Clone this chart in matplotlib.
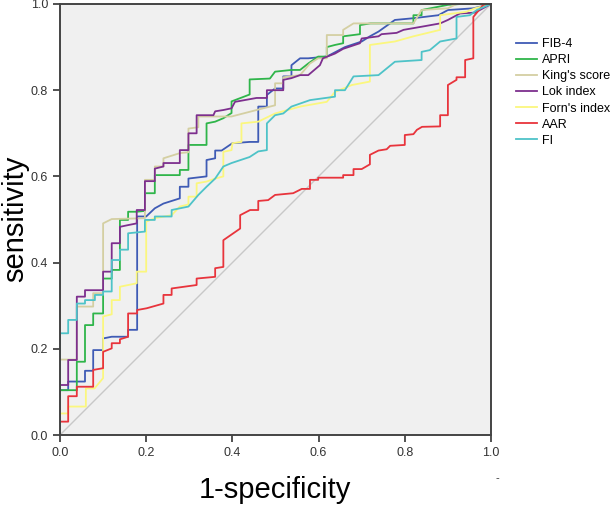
import matplotlib
matplotlib.use("Agg")
import matplotlib.pyplot as plt

plt.rcParams["font.family"] = ["Liberation Sans", "DejaVu Sans"]

# ROC curves (1-specificity, sensitivity)
fib4_x = [0, 0, 0.019, 0.019, 0.058, 0.058, 0.077, 0.077, 0.10, 0.10, 0.12, 0.158, 0.158, 0.179, 0.179, 0.20,
          0.22, 0.24, 0.278, 0.278, 0.298, 0.298, 0.34, 0.34, 0.36, 0.36, 0.375, 0.40, 0.44, 0.46, 0.46, 0.48,
          0.48, 0.499, 0.518, 0.518, 0.537, 0.537, 0.557, 0.576, 0.619, 0.661, 0.70, 0.719, 0.739, 0.777, 0.82,
          0.878, 0.90, 0.959, 1.0]
fib4_y = [0, 0.104, 0.104, 0.124, 0.124, 0.149, 0.149, 0.197, 0.197, 0.224, 0.228, 0.228, 0.244, 0.244, 0.507,
          0.507, 0.526, 0.537, 0.549, 0.576, 0.576, 0.595, 0.60, 0.638, 0.642, 0.66, 0.66, 0.677, 0.68, 0.68,
          0.762, 0.762, 0.789, 0.804, 0.804, 0.832, 0.832, 0.858, 0.874, 0.874, 0.878, 0.90, 0.913, 0.925, 0.936,
          0.963, 0.967, 0.974, 0.986, 0.99, 1.0]

apri_x = [0, 0, 0.039, 0.039, 0.058, 0.058, 0.077, 0.077, 0.10, 0.10, 0.12, 0.12, 0.139, 0.139, 0.158, 0.158,
          0.178, 0.197, 0.197, 0.22, 0.22, 0.278, 0.278, 0.298, 0.298, 0.34, 0.34, 0.36, 0.379, 0.398, 0.398,
          0.44, 0.44, 0.487, 0.499, 0.537, 0.557, 0.576, 0.599, 0.619, 0.619, 0.638, 0.657, 0.657, 0.696, 0.696,
          0.72, 0.82, 0.82, 0.839, 0.839, 0.90, 0.93, 1.0]
apri_y = [0, 0.104, 0.104, 0.17, 0.17, 0.255, 0.255, 0.282, 0.282, 0.363, 0.363, 0.383, 0.383, 0.499, 0.499,
          0.518, 0.518, 0.52, 0.561, 0.561, 0.603, 0.603, 0.615, 0.615, 0.673, 0.673, 0.723, 0.727, 0.735, 0.747,
          0.774, 0.79, 0.825, 0.827, 0.843, 0.847, 0.847, 0.862, 0.878, 0.878, 0.90, 0.905, 0.909, 0.925, 0.93,
          0.951, 0.955, 0.955, 0.974, 0.974, 0.986, 0.998, 1.0, 1.0]

king_x = [0, 0, 0.039, 0.039, 0.077, 0.077, 0.10, 0.10, 0.12, 0.197, 0.197, 0.22, 0.22, 0.24, 0.24, 0.278,
          0.298, 0.298, 0.321, 0.321, 0.398, 0.456, 0.499, 0.499, 0.518, 0.518, 0.557, 0.58, 0.599, 0.619, 0.619,
          0.657, 0.657, 0.681, 0.82, 0.839, 0.90, 0.92, 1.0]
king_y = [0, 0.175, 0.175, 0.298, 0.298, 0.329, 0.329, 0.491, 0.501, 0.503, 0.592, 0.592, 0.623, 0.623, 0.642,
          0.654, 0.656, 0.711, 0.714, 0.739, 0.739, 0.754, 0.765, 0.816, 0.816, 0.83, 0.835, 0.862, 0.874, 0.874,
          0.928, 0.928, 0.94, 0.955, 0.955, 0.986, 0.99, 1.0, 1.0]

lok_x = [0, 0, 0.019, 0.019, 0.039, 0.039, 0.058, 0.058, 0.10, 0.10, 0.12, 0.12, 0.139, 0.139, 0.158, 0.178,
         0.178, 0.197, 0.197, 0.22, 0.22, 0.24, 0.24, 0.278, 0.278, 0.298, 0.298, 0.317, 0.317, 0.356, 0.36,
         0.379, 0.398, 0.406, 0.456, 0.48, 0.48, 0.518, 0.518, 0.537, 0.557, 0.576, 0.603, 0.61, 0.638, 0.657,
         0.696, 0.70, 0.739, 0.746, 0.781, 0.797, 0.843, 0.882, 0.90, 0.928, 0.963, 1.0]
lok_y = [0, 0.116, 0.116, 0.174, 0.174, 0.321, 0.321, 0.336, 0.336, 0.379, 0.379, 0.445, 0.445, 0.483, 0.487,
         0.491, 0.522, 0.522, 0.589, 0.589, 0.618, 0.623, 0.631, 0.631, 0.661, 0.661, 0.70, 0.70, 0.742, 0.742,
         0.751, 0.754, 0.758, 0.773, 0.782, 0.782, 0.80, 0.80, 0.824, 0.828, 0.835, 0.835, 0.858, 0.874, 0.885,
         0.896, 0.909, 0.92, 0.925, 0.93, 0.933, 0.94, 0.948, 0.955, 0.963, 0.978, 0.98, 1.0]

forn_x = [0, 0, 0.019, 0.019, 0.039, 0.06, 0.06, 0.08, 0.10, 0.10, 0.12, 0.12, 0.139, 0.139, 0.178, 0.178, 0.20,
          0.20, 0.22, 0.259, 0.278, 0.298, 0.298, 0.317, 0.317, 0.34, 0.36, 0.379, 0.379, 0.398, 0.40, 0.421,
          0.421, 0.46, 0.499, 0.557, 0.619, 0.638, 0.677, 0.719, 0.719, 0.777, 0.82, 0.882, 0.882, 0.943, 0.963,
          1.0]
forn_y = [0, 0.05, 0.05, 0.066, 0.066, 0.066, 0.108, 0.108, 0.132, 0.275, 0.28, 0.313, 0.313, 0.344, 0.352,
          0.379, 0.379, 0.495, 0.503, 0.51, 0.53, 0.535, 0.553, 0.553, 0.584, 0.588, 0.595, 0.60, 0.657, 0.661,
          0.677, 0.68, 0.723, 0.727, 0.746, 0.762, 0.773, 0.796, 0.812, 0.82, 0.905, 0.913, 0.925, 0.94, 0.974,
          0.982, 0.99, 1.0]

aar_x = [0, 0, 0.019, 0.019, 0.039, 0.039, 0.077, 0.077, 0.10, 0.10, 0.12, 0.12, 0.139, 0.139, 0.158, 0.158,
         0.179, 0.179, 0.201, 0.24, 0.24, 0.259, 0.259, 0.317, 0.317, 0.36, 0.36, 0.379, 0.379, 0.418, 0.418,
         0.441, 0.46, 0.46, 0.483, 0.499, 0.541, 0.561, 0.58, 0.58, 0.599, 0.599, 0.657, 0.657, 0.681, 0.681,
         0.70, 0.719, 0.719, 0.739, 0.758, 0.766, 0.80, 0.80, 0.82, 0.828, 0.84, 0.882, 0.882, 0.90, 0.90, 0.92,
         0.92, 0.94, 0.94, 0.959, 0.959, 0.982, 1.0]
aar_y = [0, 0.031, 0.031, 0.09, 0.09, 0.112, 0.112, 0.151, 0.155, 0.193, 0.201, 0.213, 0.213, 0.222, 0.228,
         0.282, 0.282, 0.29, 0.294, 0.305, 0.325, 0.325, 0.34, 0.348, 0.363, 0.367, 0.387, 0.39, 0.452, 0.479,
         0.51, 0.522, 0.522, 0.543, 0.545, 0.557, 0.561, 0.571, 0.571, 0.592, 0.592, 0.597, 0.597, 0.603, 0.603,
         0.617, 0.617, 0.628, 0.65, 0.66, 0.663, 0.671, 0.673, 0.696, 0.698, 0.708, 0.715, 0.716, 0.742, 0.742,
         0.812, 0.824, 0.83, 0.83, 0.87, 0.874, 0.97, 0.998, 1.0]

fi_x = [0, 0, 0.019, 0.019, 0.039, 0.039, 0.058, 0.058, 0.081, 0.081, 0.10, 0.10, 0.12, 0.12, 0.139, 0.139,
        0.158, 0.158, 0.197, 0.197, 0.22, 0.22, 0.259, 0.259, 0.298, 0.321, 0.34, 0.36, 0.379, 0.398, 0.44,
        0.46, 0.48, 0.48, 0.499, 0.518, 0.537, 0.58, 0.638, 0.638, 0.661, 0.681, 0.739, 0.777, 0.839, 0.839,
        0.858, 0.882, 0.92, 0.92, 0.951, 0.967, 1.0]
fi_y = [0, 0.236, 0.236, 0.267, 0.267, 0.305, 0.305, 0.313, 0.313, 0.325, 0.325, 0.333, 0.333, 0.406, 0.406,
        0.43, 0.43, 0.468, 0.472, 0.499, 0.499, 0.507, 0.507, 0.522, 0.53, 0.557, 0.576, 0.595, 0.623, 0.631,
        0.645, 0.658, 0.661, 0.723, 0.742, 0.746, 0.762, 0.777, 0.785, 0.80, 0.80, 0.832, 0.835, 0.866, 0.87,
        0.889, 0.893, 0.913, 0.92, 0.97, 0.974, 0.986, 1.0]

names = ["FIB-4", "APRI", "King's score", "Lok index", "Forn's index", "AAR", "FI"]
xs = [fib4_x, apri_x, king_x, lok_x, forn_x, aar_x, fi_x]
ys = [fib4_y, apri_y, king_y, lok_y, forn_y, aar_y, fi_y]
colors = ["#3f5bb5", "#2fb54a", "#d4cfa2", "#7d2f8e", "#fbf77e", "#e8343c", "#4ec3c8"]
ticks = [0.0, 0.2, 0.4, 0.6, 0.8, 1.0]

fig = plt.figure(figsize=(6.14, 5.13), dpi=100)
ax = fig.add_axes([60 / 614, 1 - 435 / 513, 431 / 614, 431 / 513])
ax.set_facecolor("#f0f0f0")

ax.plot([0, 1], [0, 1], color="#c8c8c8", lw=1.0)
for x, y, c, n in zip(xs, ys, colors, names):
    ax.plot(x, y, color=c, lw=1.3, label=n)

ax.set_xlim(0, 1)
ax.set_ylim(0, 1)
ax.set_xticks(ticks)
ax.set_yticks(ticks)
ax.set_xticklabels([f"{t:.1f}" for t in ticks])
ax.set_yticklabels([f"{t:.1f}" for t in ticks])
ax.tick_params(direction="out", length=5, width=1.2, colors="#333333", labelsize=9, labelcolor="#333333")
for s in ax.spines.values():
    s.set_color("#444444")
    s.set_linewidth(1.4)

fig.text(275 / 614, 1 - 490 / 513, "1-specificity", fontsize=21, ha="center", va="center")
fig.text(15 / 614, 1 - 219 / 513, "sensitivity", fontsize=21, ha="center", va="center", rotation=90)
fig.text(497 / 614, 1 - 478 / 513, "-", fontsize=8, color="#333333", ha="center", va="center")

fig.legend(loc="upper left", bbox_to_anchor=(516 / 614, 1 - 38 / 513), frameon=False, fontsize=9,
           handlelength=1.7, handletextpad=0.4, labelspacing=0.33, borderpad=0, borderaxespad=0)

fig.savefig("out.png", dpi=100)
